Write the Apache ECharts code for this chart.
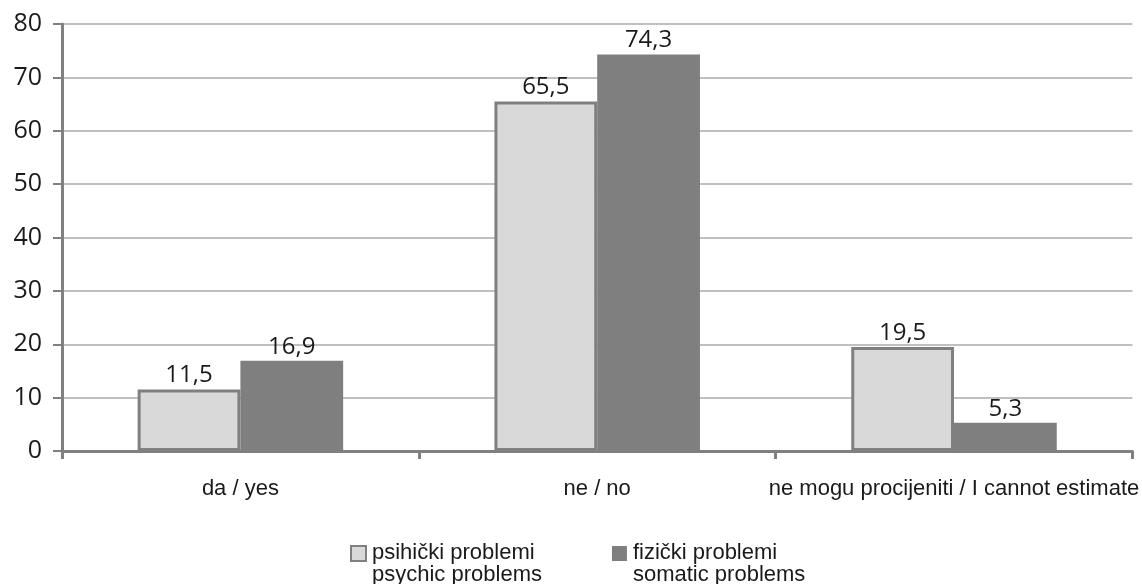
<!DOCTYPE html>
<html>
<head>
<meta charset="utf-8">
<script src="https://cdn.jsdelivr.net/npm/echarts@6/dist/echarts.min.js"></script>
<style>
  html, body { margin: 0; padding: 0; background: #fff; }
  #chart { width: 1142px; height: 584px; }
</style>
</head>
<body>
<div id="chart"></div>
<script>
// categories and values
var categories = ['da / yes', 'ne / no', 'ne mogu procijeniti / I cannot estimate'];
var psychicValues = [11.5, 65.5, 19.5];
var somaticValues = [16.9, 74.3, 5.3];
var seriesNames = ['psihički problemi\npsychic problems', 'fizički problemi\nsomatic problems'];

var chart = echarts.init(document.getElementById('chart'));

// square icon at the top of a taller box so it lines up with the first text line
var legendIcon = 'path://M0,0H10V10H0Z M0,24';

function fmt(p) {
    return String(p.value).replace('.', ',');
}

var labelStyle = {
    show: true,
    position: 'top',
    distance: 2,
    formatter: fmt,
    fontFamily: 'Open Sans',
    fontSize: 24,
    color: '#1a1a1a'
};

var option = {
    backgroundColor: '#ffffff',
    animation: false,
    grid: {
        left: 62,
        right: 8,
        top: 24,
        bottom: 133
    },
    legend: {
        left: 345,
        top: 537,
        itemWidth: 15,
        itemHeight: 38,
        itemGap: 70,
        icon: legendIcon,
        data: seriesNames,
        textStyle: {
            fontFamily: 'Liberation Sans',
            fontSize: 22,
            color: '#1a1a1a',
            lineHeight: 22,
            padding: [0, 0, 0, 1]
        }
    },
    xAxis: {
        type: 'category',
        data: categories,
        axisLine: { lineStyle: { color: '#808080', width: 3 } },
        axisTick: { show: true, interval: 0, length: 8, lineStyle: { color: '#808080', width: 3 } },
        axisLabel: {
            interval: 0,
            margin: 27,
            fontFamily: 'Liberation Sans',
            fontSize: 22,
            color: '#1a1a1a'
        }
    },
    yAxis: {
        type: 'value',
        min: 0,
        max: 80,
        interval: 10,
        axisLine: { show: true, lineStyle: { color: '#808080', width: 3 } },
        axisTick: { show: true, length: 9, lineStyle: { color: '#808080', width: 2 } },
        axisLabel: {
            margin: 20,
            fontFamily: 'Open Sans',
            fontSize: 25,
            color: '#1a1a1a'
        },
        splitLine: { lineStyle: { color: '#c0c0c0', width: 2 } }
    },
    series: [
        {
            name: seriesNames[0],
            type: 'bar',
            data: psychicValues,
            barWidth: '28.8%',
            barGap: '0%',
            itemStyle: { color: '#d9d9d9', borderColor: '#808080', borderWidth: 3 },
            label: labelStyle
        },
        {
            name: seriesNames[1],
            type: 'bar',
            data: somaticValues,
            barWidth: '28.8%',
            itemStyle: { color: '#7f7f7f' },
            label: labelStyle
        }
    ]
};

chart.setOption(option);
</script>
</body>
</html>
